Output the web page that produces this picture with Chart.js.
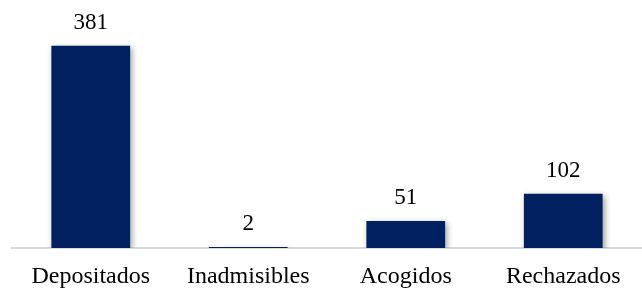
<!DOCTYPE html>
<html>
<head>
<meta charset="utf-8">
<script src="https://cdn.jsdelivr.net/npm/chart.js@4/dist/chart.umd.min.js"></script>
<style>
  html, body { margin: 0; padding: 0; background: #ffffff; }
  #wrap { width: 642px; height: 288px; }
</style>
</head>
<body>
<div id="wrap"><canvas id="c" width="642" height="288"></canvas></div>
<script>
const categories = ["Depositados", "Inadmisibles", "Acogidos", "Rechazados"];
const values = [381, 2, 51, 102];

const barColor = "#002060";
const fontFamily = "'Liberation Serif', 'Times New Roman', serif";

const shadowPlugin = {
  id: "barShadow",
  beforeDatasetDraw(chart) {
    const ctx = chart.ctx;
    ctx.save();
    ctx.shadowColor = "rgba(0,0,0,0.38)";
    ctx.shadowBlur = 6;
    ctx.shadowOffsetX = 2;
    ctx.shadowOffsetY = 2;
  },
  afterDatasetDraw(chart) {
    chart.ctx.restore();
  }
};

const valueLabels = {
  id: "valueLabels",
  afterDatasetsDraw(chart) {
    const ctx = chart.ctx;
    const meta = chart.getDatasetMeta(0);
    ctx.save();
    ctx.font = "23px " + fontFamily;
    ctx.fillStyle = "#000000";
    ctx.textAlign = "center";
    ctx.textBaseline = "alphabetic";
    meta.data.forEach((bar, i) => {
      ctx.fillText(String(values[i]), bar.x, bar.y - 17);
    });
    ctx.restore();
  }
};

new Chart(document.getElementById("c"), {
  type: "bar",
  data: {
    labels: categories,
    datasets: [{
      data: values,
      backgroundColor: barColor,
      borderWidth: 0,
      barPercentage: 0.5,
      categoryPercentage: 1.0
    }]
  },
  options: {
    responsive: false,
    animation: false,
    devicePixelRatio: 1,
    layout: { padding: { top: 9, left: 12, right: 0, bottom: -18 } },
    plugins: { legend: { display: false }, tooltip: { enabled: false } },
    scales: {
      x: {
        grid: { display: false, drawTicks: false },
        border: { display: true, color: "#d9d9d9", width: 2 },
        ticks: {
          padding: 17,
          color: "#000000",
          font: { family: fontFamily, size: 24, lineHeight: 1.0 }
        }
      },
      y: {
        display: false,
        min: 0,
        max: 450
      }
    }
  },
  plugins: [shadowPlugin, valueLabels]
});
</script>
</body>
</html>
